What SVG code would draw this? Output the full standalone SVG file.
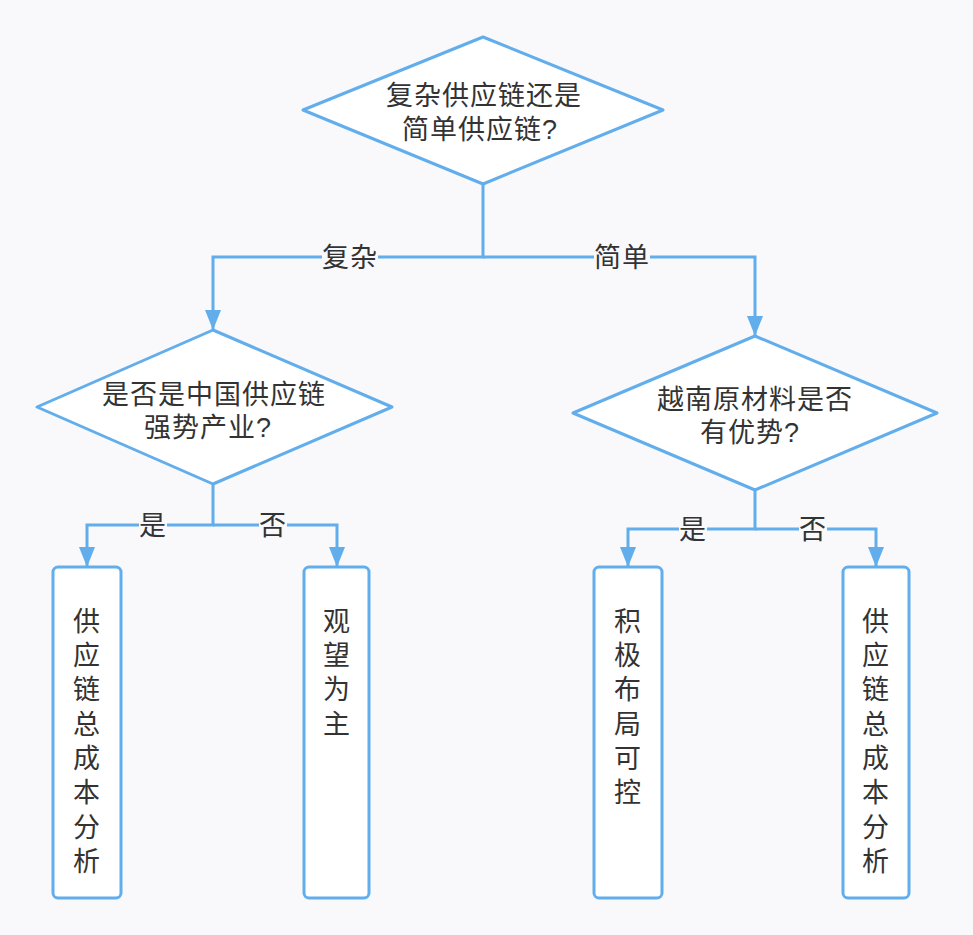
<svg xmlns="http://www.w3.org/2000/svg" width="973" height="935" viewBox="0 0 973 935">
<defs>
<style>
.shape{fill:#FFFFFF;stroke:#62AEEC;stroke-width:3;stroke-linejoin:round}
.conn{fill:none;stroke:#62AEEC;stroke-width:3}
.t{font-family:"Liberation Sans","Noto Sans CJK SC",sans-serif;font-size:27px;fill:#333333;text-anchor:middle;dominant-baseline:central;letter-spacing:1px}
.lb{fill:#F9F9FB}
</style>
<marker id="arr" markerUnits="userSpaceOnUse" markerWidth="22" markerHeight="18" refX="20" refY="8" orient="auto" viewBox="0 0 22 18">
<path d="M0,0 L20,8 L0,16 z" fill="#62AEEC"/>
</marker>
</defs>
<rect width="973" height="935" fill="#F9F9FB"/>
<g id="connectors">
<path class="conn" d="M483,184 V257 H213 V330" marker-end="url(#arr)"/>
<path class="conn" d="M483,257 H755 V336" marker-end="url(#arr)"/>
<path class="conn" d="M213,484 V525 H87 V567" marker-end="url(#arr)"/>
<path class="conn" d="M213,525 H337 V567" marker-end="url(#arr)"/>
<path class="conn" d="M755,490 V529 H628 V567" marker-end="url(#arr)"/>
<path class="conn" d="M755,529 H876 V567" marker-end="url(#arr)"/>
<rect class="lb" x="322" y="243" width="56" height="29"/>
<text class="t" x="350" y="258">复杂</text>
<rect class="lb" x="594" y="243" width="56" height="29"/>
<text class="t" x="622" y="258">简单</text>
<rect class="lb" x="139" y="512" width="28" height="28"/>
<text class="t" x="153" y="526">是</text>
<rect class="lb" x="259" y="512" width="28" height="28"/>
<text class="t" x="273" y="526">否</text>
<rect class="lb" x="679" y="516" width="28" height="28"/>
<text class="t" x="693" y="530">是</text>
<rect class="lb" x="799" y="516" width="28" height="28"/>
<text class="t" x="813" y="530">否</text>
</g>
<g id="q1">
<polygon class="shape" points="483,37 663,110 483,184 303,110"/>
<text class="t" x="484" y="96">复杂供应链还是</text>
<text class="t" x="480" y="130">简单供应链?</text>
</g>
<g id="q2">
<polygon class="shape" points="213,330 392,407 213,484 37,407"/>
<text class="t" x="214" y="395">是否是中国供应链</text>
<text class="t" x="208" y="428">强势产业?</text>
</g>
<g id="q3">
<polygon class="shape" points="755,336 937,413 755,490 573,413"/>
<text class="t" x="755" y="400">越南原材料是否</text>
<text class="t" x="750" y="433">有优势?</text>
</g>
<g id="b1">
<rect class="shape" x="53" y="567" width="68" height="331" rx="5"/>
<text class="t" x="87"><tspan x="87" y="622">供</tspan><tspan x="87" y="656">应</tspan><tspan x="87" y="690">链</tspan><tspan x="87" y="725">总</tspan><tspan x="87" y="759">成</tspan><tspan x="87" y="793">本</tspan><tspan x="87" y="828">分</tspan><tspan x="87" y="862">析</tspan></text>
</g>
<g id="b2">
<rect class="shape" x="304" y="567" width="65" height="331" rx="5"/>
<text class="t" x="337"><tspan x="337" y="622">观</tspan><tspan x="337" y="656">望</tspan><tspan x="337" y="690">为</tspan><tspan x="337" y="725">主</tspan></text>
</g>
<g id="b3">
<rect class="shape" x="594" y="567" width="68" height="331" rx="5"/>
<text class="t" x="628"><tspan x="628" y="622">积</tspan><tspan x="628" y="656">极</tspan><tspan x="628" y="690">布</tspan><tspan x="628" y="725">局</tspan><tspan x="628" y="759">可</tspan><tspan x="628" y="793">控</tspan></text>
</g>
<g id="b4">
<rect class="shape" x="843" y="567" width="66" height="331" rx="5"/>
<text class="t" x="876"><tspan x="876" y="622">供</tspan><tspan x="876" y="656">应</tspan><tspan x="876" y="690">链</tspan><tspan x="876" y="725">总</tspan><tspan x="876" y="759">成</tspan><tspan x="876" y="793">本</tspan><tspan x="876" y="828">分</tspan><tspan x="876" y="862">析</tspan></text>
</g>
</svg>
